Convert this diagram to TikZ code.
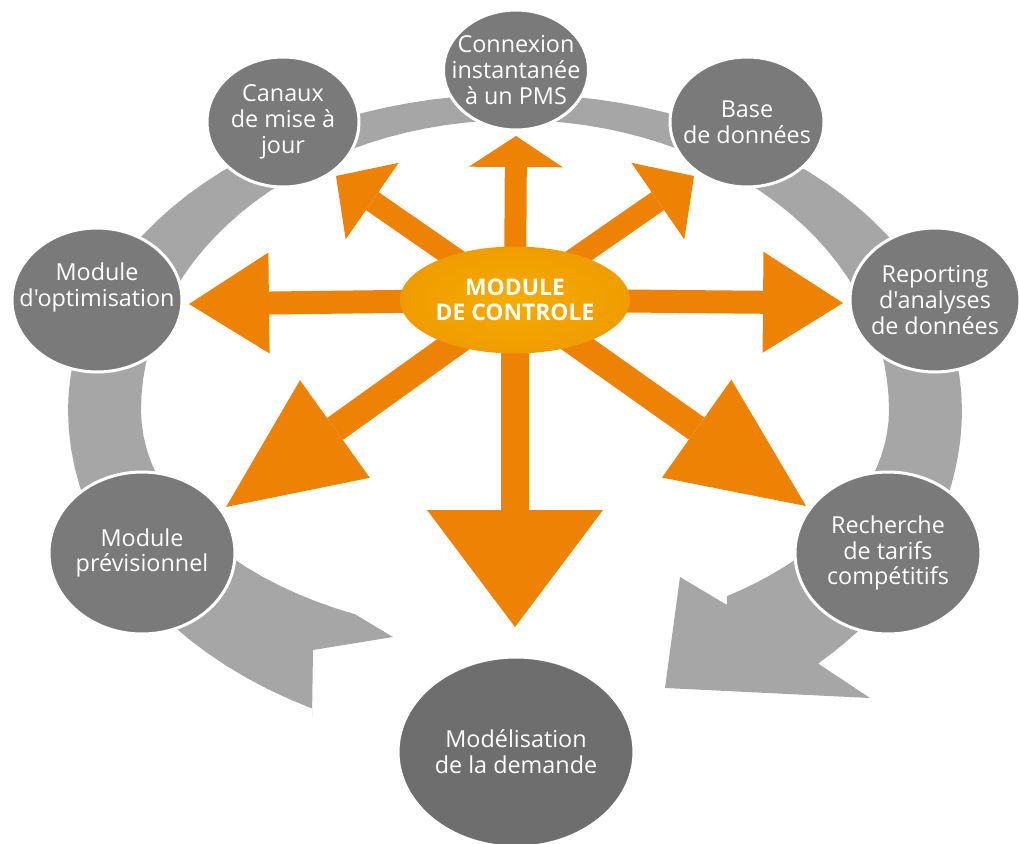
\documentclass[tikz,border=0pt]{standalone}
\usepackage{fontspec}
\setmainfont{Open Sans}[Ligatures=TeXOff]
\usetikzlibrary{arrows.meta, shapes.geometric}

\definecolor{orangefleche}{HTML}{EE8204}
\definecolor{orangeclair}{HTML}{F5AC00}
\definecolor{orangemoyen}{HTML}{F09C00}
\definecolor{grisbulle}{HTML}{7A7A7A}
\definecolor{grisfonce}{HTML}{6E6E6E}
\definecolor{grisclair}{HTML}{8E8E8E}
\definecolor{grisanneau}{HTML}{A6A6A6}

\begin{document}
\begin{tikzpicture}[x=0.02cm, y=-0.02cm]
		\tikzstyle{Bulle} = [ellipse, draw=white, fill=grisbulle, line width=1.7pt, inner sep=0pt]
		\tikzstyle{Texte} = [align=center, text=white, inner sep=0pt, font=\fontsize{13.3}{14.7}\selectfont]
		\tikzstyle{Centre} = [ellipse, minimum width=4.6cm, minimum height=2.14cm, inner sep=0pt, align=center, text=white, inner color=orangeclair, outer color=orangemoyen, font=\bfseries\fontsize{13}{14.2}\selectfont]
		\tikzstyle{Anneau} = [fill=grisanneau]
		\tikzstyle{arrow} = [draw=orangefleche]
		
		\useasboundingbox (0,0) rectangle (1019,843);
		
		% anneau gris
		\fill [Anneau] plot [domain=243:180, samples=20] ({515+447*cos(\x)}, {410-335*sin(\x)})
			-- plot [domain=180:0, samples=60] ({515+447*cos(\x)}, {410-316*sin(\x)})
			-- plot [domain=0:-47.3, samples=20] ({515+447*cos(\x)}, {410-345*sin(\x)})
			-- (870,698) -- (665,688) -- (680,577) -- (727,605)
			-- plot [domain=-55.5:0, samples=20] ({515+374*cos(\x)}, {410-226*sin(\x)})
			-- plot [domain=0:180, samples=60] ({515+374*cos(\x)}, {410-290*sin(\x)})
			-- plot [domain=180:244.7, samples=20] ({515+374*cos(\x)}, {410-226*sin(\x)})
			-- (393,637) -- (313,650) -- (312,718) -- cycle;
		
		% bulles
		\node (pms) [Bulle, minimum width=2.9cm, minimum height=2.4cm] at (516,70) {};
		\node (canaux) [Bulle, minimum width=3.04cm, minimum height=2.6cm] at (283,122) {};
		\node (base) [Bulle, minimum width=3.08cm, minimum height=2.6cm] at (747,122) {};
		\node (optim) [Bulle, minimum width=3.4cm, minimum height=2.88cm] at (97,300) {};
		\node (reporting) [Bulle, minimum width=3.4cm, minimum height=2.88cm] at (935,300) {};
		\node (previs) [Bulle, minimum width=3.72cm, minimum height=3.24cm] at (142,553) {};
		\node (tarifs) [Bulle, minimum width=3.72cm, minimum height=3.24cm] at (888,553) {};
		\node (demande) [Bulle, minimum width=4.72cm, minimum height=3.8cm, left color=grisfonce, middle color=grisclair, right color=grisfonce] at (516,752) {};
		
		\node (pmsT) [Texte] at (pms) {Connexion\\instantanée\\à un PMS};
		\node (canauxT) [Texte] at (canaux) {Canaux\\de mise à\\jour};
		\node (baseT) [Texte] at (base) {Base\\de données};
		\node (optimT) [Texte] at ([yshift=7pt]optim) {Module\\d'optimisation};
		\node (reportingT) [Texte] at (reporting) {Reporting\\d'analyses\\de données};
		\node (previsT) [Texte] at (previs) {Module\\prévisionnel};
		\node (tarifsT) [Texte] at (tarifs) {Recherche\\de tarifs\\compétitifs};
		\node (demandeT) [Texte] at (demande) {Modélisation\\de la demande};
		
		% fleches oranges
		\coordinate (c0) at (515,300);
		\coordinate (p1) at (516,136);
		\coordinate (p2) at (694,176);
		\coordinate (p3) at (843,303);
		\coordinate (p4) at (806,506);
		\coordinate (p5) at (515,627);
		\coordinate (p6) at (226,507);
		\coordinate (p7) at (189,304);
		\coordinate (p8) at (336,176);
		
		\draw [arrow, line width=0.44cm, -{Triangle[width=1.88cm, length=0.62cm, line width=0pt]}] (c0) -- (p1);
		\draw [arrow, line width=0.44cm, -{Triangle[width=1.86cm, length=0.88cm, line width=0pt]}] (c0) -- (p2);
		\draw [arrow, line width=0.46cm, -{Triangle[width=2.02cm, length=1.6cm, line width=0pt]}] (c0) -- (p3);
		\draw [arrow, line width=0.54cm, -{Triangle[width=2.4cm, length=2.68cm, line width=0pt]}] (c0) -- (p4);
		\draw [arrow, line width=0.56cm, -{Triangle[width=3.52cm, length=2.34cm, line width=0pt]}] (c0) -- (p5);
		\draw [arrow, line width=0.54cm, -{Triangle[width=2.4cm, length=2.68cm, line width=0pt]}] (c0) -- (p6);
		\draw [arrow, line width=0.46cm, -{Triangle[width=2.02cm, length=1.6cm, line width=0pt]}] (c0) -- (p7);
		\draw [arrow, line width=0.44cm, -{Triangle[width=1.86cm, length=0.88cm, line width=0pt]}] (c0) -- (p8);
		
		\node (controle) [Centre] at (c0) {MODULE\\DE CONTROLE};
\end{tikzpicture}
\end{document}
